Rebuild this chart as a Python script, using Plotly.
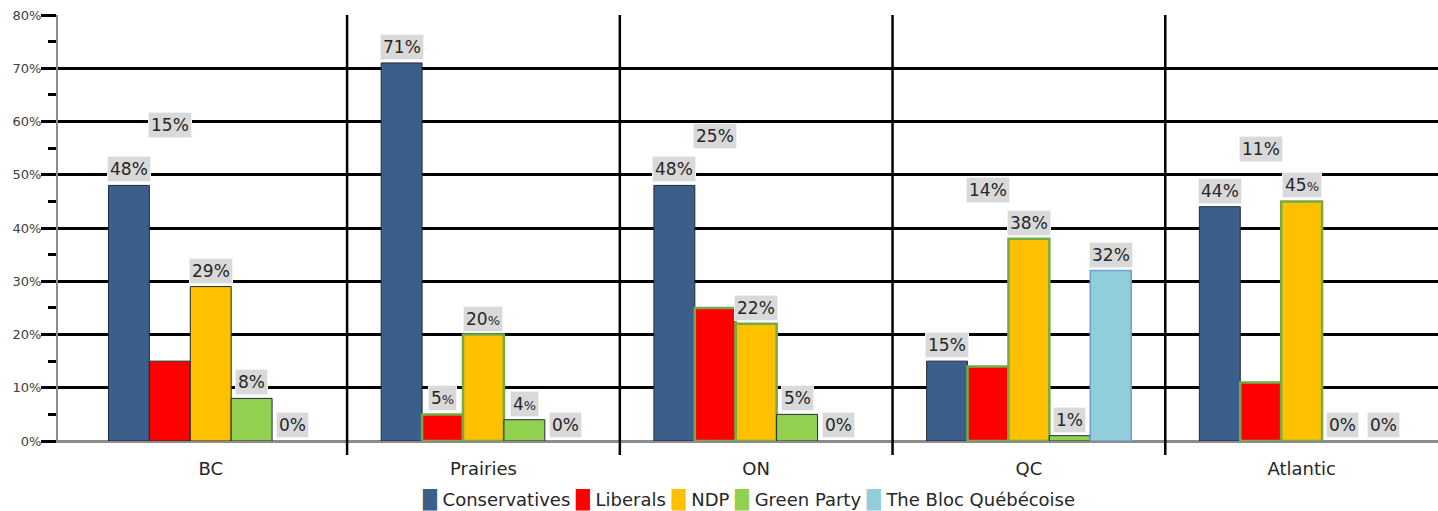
import plotly.graph_objects as go

# ---------------- data ----------------
categories = ["BC", "Prairies", "ON", "QC", "Atlantic"]
parties = ["Conservatives", "Liberals", "NDP", "Green Party", "The Bloc Québécoise"]
conservatives = [48, 71, 48, 15, 44]
liberals = [15, 5, 25, 14, 11]
ndp = [29, 20, 22, 38, 45]
green_party = [8, 4, 5, 1, 0]
bloc = [0, 0, 0, 32, 0]
y_tick_values = [0, 10, 20, 30, 40, 50, 60, 70, 80]
y_tick_labels = ["0%", "10%", "20%", "30%", "40%", "50%", "60%", "70%", "80%"]

series = [conservatives, liberals, ndp, green_party, bloc]

# ---------------- style ----------------
FONT = "Verdana, DejaVu Sans, sans-serif"
colors = ["#3B5F8A", "#FF0000", "#FFC000", "#92D050", "#92CDDC"]
DARK = "#1E2A38"
GREEN_EDGE = "#70AD47"
BLUE_EDGE = "#6E9FD6"
edge_colors = [
    [DARK] * 5,
    [DARK, GREEN_EDGE, GREEN_EDGE, GREEN_EDGE, GREEN_EDGE],
    [DARK, GREEN_EDGE, GREEN_EDGE, GREEN_EDGE, GREEN_EDGE],
    [DARK] * 5,
    [BLUE_EDGE] * 5,
]
edge_widths = [
    [1, 1, 1, 1, 1],
    [1, 2.5, 2.5, 2.5, 2.5],
    [1, 2.5, 2.5, 2.5, 2.5],
    [1, 1, 1, 1, 1],
    [1.5, 1.5, 1.5, 1.5, 1.5],
]
# label placement overrides (liberal labels float above the groups in the original)
label_anchor_override = {(1, 0): 56.3, (1, 2): 54.3, (1, 3): 44.1, (1, 4): 51.8}
small_percent = {(1, 1), (2, 1), (3, 1), (2, 4)}

BARGAP = 0.25
n_series = len(series)
slot = (1 - BARGAP) / n_series

fig = go.Figure()
for j, (name, vals) in enumerate(zip(parties, series)):
    widths = [w if v > 0 else 0 for w, v in zip(edge_widths[j], vals)]
    fig.add_trace(go.Bar(
        x=categories, y=vals, name=name,
        marker=dict(color=colors[j], line=dict(color=edge_colors[j], width=widths)),
        showlegend=False,
        hovertemplate="%{x}: %{y}%<extra>" + name + "</extra>",
    ))

annotations = []
for j, vals in enumerate(series):
    for i, v in enumerate(vals):
        if (j, i) in small_percent:
            txt = f'{v}<span style="font-size:13px">%</span>'
        else:
            txt = f"{v}%"
        y_anchor = label_anchor_override.get((j, i), v)
        annotations.append(dict(
            x=i + (j - (n_series - 1) / 2) * slot, y=y_anchor,
            xref="x", yref="y", text=txt, showarrow=False,
            yanchor="bottom", xanchor="center", yshift=3,
            font=dict(family=FONT, size=17, color="#262626"),
            bgcolor="#D9D9D9", bordercolor="#F2F2F2", borderwidth=1, borderpad=2,
        ))

# legend drawn as a single text line built from party names and colours
legend_parts = [f'<span style="color:{c}">\u2588</span> {n}' for c, n in zip(colors, parties)]
annotations.append(dict(
    x=0.5, y=-0.138, xref="paper", yref="paper",
    text=" ".join(legend_parts), showarrow=False, xanchor="center", yanchor="middle",
    font=dict(family=FONT, size=18, color="#262626"),
))

shapes = []
for i in range(len(categories) - 1):
    shapes.append(dict(
        type="line", xref="x", yref="paper", x0=i + 0.5, x1=i + 0.5,
        y0=-0.033, y1=1, line=dict(color="black", width=2.5), layer="above",
    ))

fig.update_layout(
    width=1438, height=511,
    margin=dict(l=58, r=0, t=15, b=70),
    plot_bgcolor="white", paper_bgcolor="white",
    barmode="group", bargap=BARGAP, bargroupgap=0,
    annotations=annotations, shapes=shapes,
    font=dict(family=FONT),
    xaxis=dict(
        type="category", range=[-0.56, 4.5],
        showline=True, linecolor="#8C8C8C", linewidth=2,
        showgrid=False, ticks="outside", ticklen=10, tickcolor="rgba(0,0,0,0)",
        tickfont=dict(family=FONT, size=18, color="#262626"),
    ),
    yaxis=dict(
        range=[0, 80], tickmode="array", tickvals=y_tick_values, ticktext=y_tick_labels,
        showgrid=True, gridcolor="black", gridwidth=2.5,
        zeroline=True, zerolinecolor="#8C8C8C", zerolinewidth=2,
        showline=True, linecolor="#8C8C8C", linewidth=2,
        ticks="outside", ticklen=15, tickwidth=2.5, tickcolor="black",
        ticklabelstandoff=-3,
        minor=dict(tickmode="linear", tick0=0, dtick=5, ticks="outside", ticklen=8,
                   tickwidth=2.5, tickcolor="black", showgrid=False),
        tickfont=dict(family=FONT, size=13, color="#404040"),
    ),
)

fig.write_html("out.html")
